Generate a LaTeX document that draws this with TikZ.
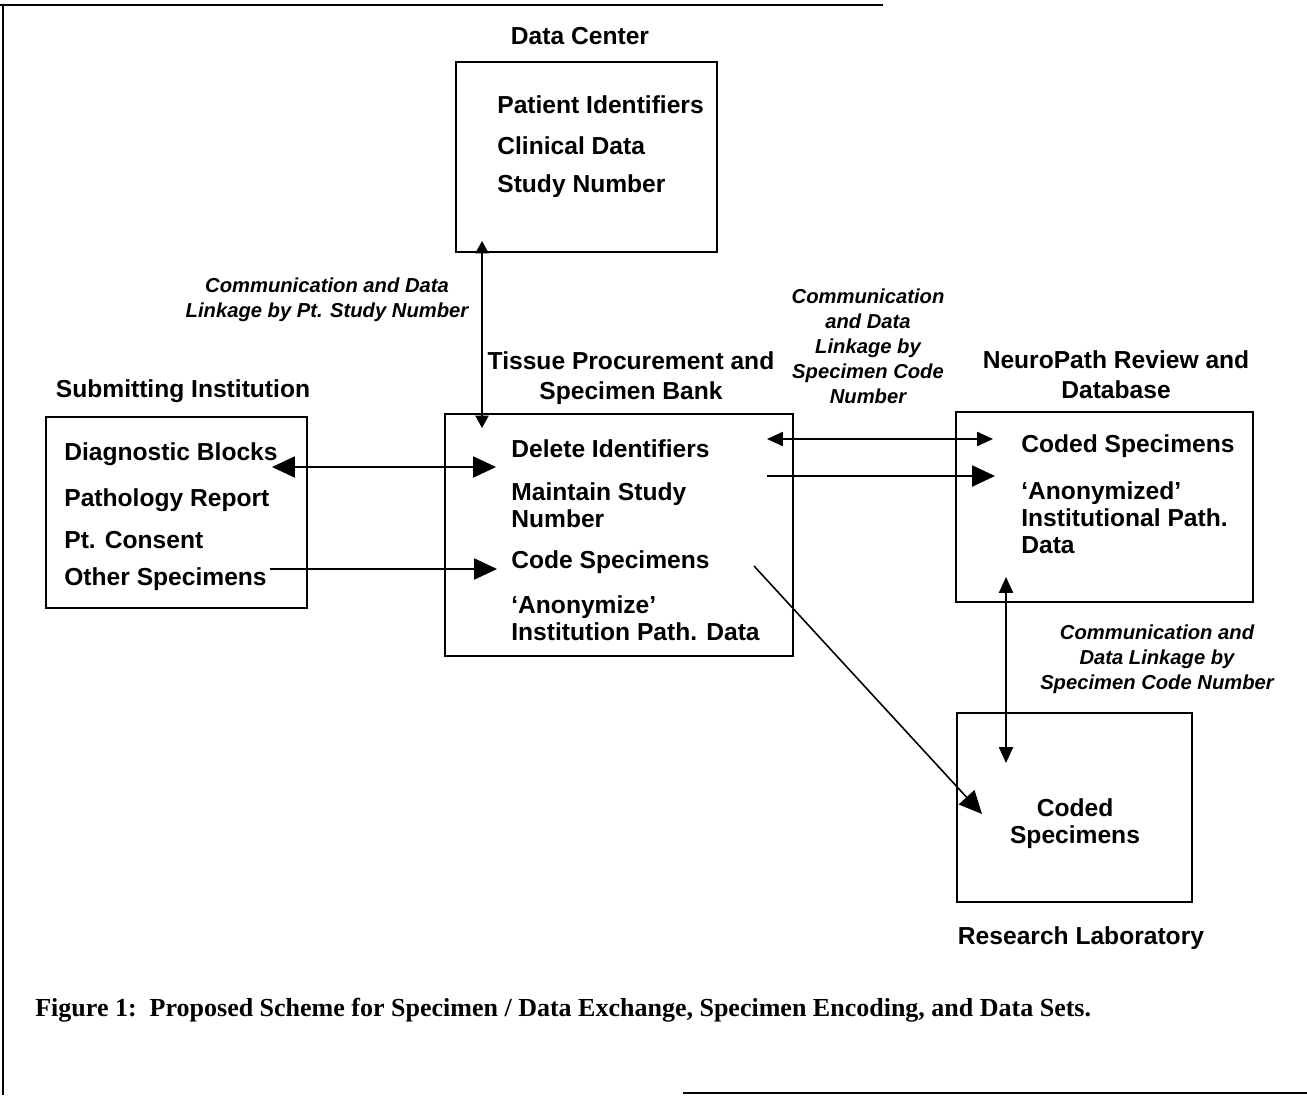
\documentclass[tikz,border=0pt]{standalone}
\usepackage{fontspec}
\setmainfont{Liberation Sans}
\newfontfamily\capfont{Liberation Serif}
\usetikzlibrary{arrows.meta, positioning}

\tikzset{
  box/.style={draw, line width=1pt, inner sep=0pt},
  entry/.style={font=\bfseries\fontsize{14}{15.3}\selectfont, anchor=west, align=left, inner sep=0pt},
  heading/.style={font=\bfseries\fontsize{14}{17}\selectfont, align=center, inner sep=0pt},
  linknote/.style={font=\bfseries\itshape\fontsize{11.5}{14.2}\selectfont, align=center, inner sep=0pt},
  link/.style={line width=0.9pt},
  bighead/.style={-{Triangle[length=13pt,width=12pt]}},
  bigboth/.style={{Triangle[length=13pt,width=12pt]}-{Triangle[length=13pt,width=12pt]}},
  midboth/.style={{Triangle[length=9pt,width=8pt]}-{Triangle[length=9pt,width=8pt]}},
  smallboth/.style={{Triangle[length=7pt,width=7.5pt]}-{Triangle[length=7pt,width=7.5pt]}}
}

\begin{document}
\begin{tikzpicture}[x=0.02cm, y=-0.02cm]
    \useasboundingbox (0,0) rectangle (1307,1095);

    % Page frame
    \draw[line width=1pt] (0,5) -- (883,5);
    \draw[line width=0.8pt] (3,5) -- (3,1095);
    \draw[line width=1pt] (683,1093) -- (1307,1093);

    % Data Center
    \node[heading] (dctitle) at (580,36) {Data Center};
    \node[box, minimum width=5.22cm, minimum height=3.8cm] (dc) at (586.5,157) {};
    \node[entry] (pid) at (497,105) {Patient Identifiers};
    \node[entry] (clin) at (497,146) {Clinical Data};
    \node[entry] (studyno) at (497,186) {Study Number};

    % Submitting Institution
    \node[heading] (subtitle) at (183,391) {Submitting Institution};
    \node[box, minimum width=5.22cm, minimum height=3.82cm] (sub) at (176.5,512.5) {};
    \node[entry] (diag) at (64,454) {Diagnostic Blocks};
    \node[entry] (pathrep) at (64,500) {Pathology Report};
    \node[entry] (consent) at (64,540) {Pt. Consent};
    \node[entry] (other) at (64,579) {Other Specimens};

    % Tissue Procurement and Specimen Bank
    \node[heading] (tptitle) at (631,378) {Tissue Procurement and\\Specimen Bank};
    \node[box, minimum width=6.96cm, minimum height=4.84cm] (tp) at (619,535) {};
    \node[entry] (delid) at (511,449) {Delete Identifiers};
    \node[entry] (maintain) at (511,505.5) {Maintain Study\\Number};
    \node[entry] (codespec) at (511,562) {Code Specimens};
    \node[entry] (anon) at (511,618) {`Anonymize'\\Institution Path. Data};

    % NeuroPath Review and Database
    \node[heading] (nptitle) at (1116,375) {NeuroPath Review and\\Database};
    \node[box, minimum width=5.94cm, minimum height=3.8cm] (np) at (1104.5,507) {};
    \node[entry] (codednp) at (1021,446) {Coded Specimens};
    \node[entry] (anonnp) at (1021,518) {`Anonymized'\\Institutional Path.\\Data};

    % Research Laboratory
    \node[box, minimum width=4.7cm, minimum height=3.78cm] (rl) at (1074.5,807.5) {};
    \node[heading, align=center, font=\bfseries\fontsize{14}{15.3}\selectfont] (codedrl) at (1075,823.5) {Coded\\Specimens};
    \node[heading] (rltitle) at (1081,938) {Research Laboratory};

    % Link notes
    \node[linknote] (notedc) at (327,299.5) {Communication and Data\\Linkage by Pt. Study Number};
    \node[linknote] (notenp) at (868,346.5) {Communication\\and Data\\Linkage by\\Specimen Code\\Number};
    \node[linknote] (noterl) at (1157,659) {Communication and\\Data Linkage by\\Specimen Code Number};

    % Arrow ends
    \coordinate (dcend) at (482,241);
    \coordinate (tpend) at (482,428);
    \coordinate (diagend) at (272,467);
    \coordinate (delidin) at (496,467);
    \coordinate (otherend) at (270,569);
    \coordinate (codein) at (497,569);
    \coordinate (delidout) at (767,439);
    \coordinate (codednpin) at (993,439);
    \coordinate (maintainout) at (767,476);
    \coordinate (anonnpin) at (995,476);
    \coordinate (codeout) at (754,566);
    \coordinate (codedrlin) at (982,814);
    \coordinate (npend) at (1006,577);
    \coordinate (rlend) at (1006,763);

    % Connections
    \draw[link, smallboth] (dcend) -- (tpend);
    \draw[link, bigboth] (diagend) -- (delidin);
    \draw[link, bighead] (otherend) -- (codein);
    \draw[link, midboth] (delidout) -- (codednpin);
    \draw[link, bighead] (maintainout) -- (anonnpin);
    \draw[link, bighead] (codeout) -- (codedrlin);
    \draw[link, midboth] (npend) -- (rlend);

    % Caption
    \node[anchor=west, inner sep=0pt, font=\capfont\bfseries\fontsize{14.8}{17}\selectfont] (caption) at (35,1010)
        {Figure 1:\ \ Proposed Scheme for Specimen / Data Exchange, Specimen Encoding, and Data Sets.};

\end{tikzpicture}
\end{document}
